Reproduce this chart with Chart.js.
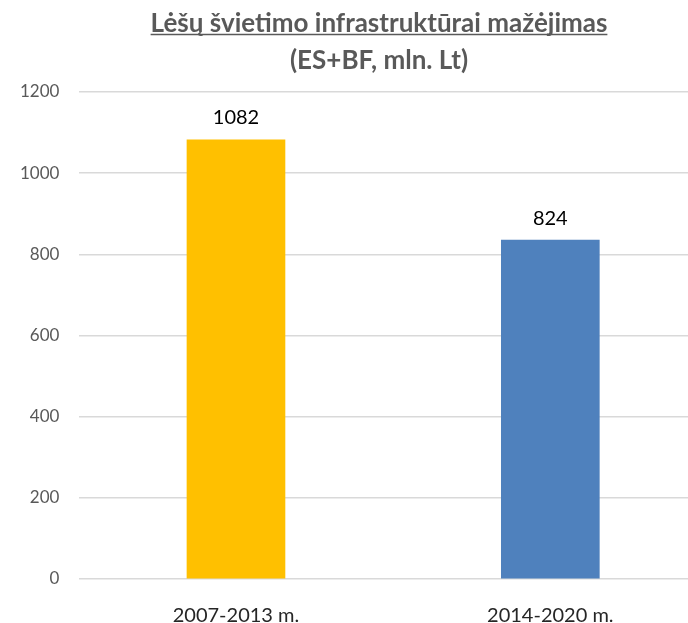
<!DOCTYPE html>
<html>
<head>
<meta charset="utf-8">
<script src="https://cdn.jsdelivr.net/npm/chart.js@4/dist/chart.umd.min.js"></script>
<style>
html,body{margin:0;padding:0;background:#fff;}
#wrap{width:688px;height:623px;}
</style>
</head>
<body>
<div id="wrap"><canvas id="c" width="688" height="623"></canvas></div>
<script>
const categories = ["2007-2013 m.", "2014-2020 m."];
const values = [1082, 835];
const valueLabels = ["1082", "824"];
const barColors = ["#FFC000", "#4F81BD"];
const titleLines = ["Lėšų švietimo infrastruktūrai mažėjimas", "(ES+BF, mln. Lt)"];
const yTicks = [0, 200, 400, 600, 800, 1000, 1200];

const FONT = "Lato, 'Open Sans', sans-serif";

const titlePlugin = {
  id: 'customTitle',
  afterDraw(chart) {
    const ctx = chart.ctx;
    ctx.save();
    ctx.font = "bold 26px " + FONT;
    ctx.fillStyle = "#595959";
    ctx.textAlign = "center";
    ctx.textBaseline = "alphabetic";
    const cx = 379;
    ctx.fillText(titleLines[0], cx, 32);
    ctx.fillText(titleLines[1], cx, 69);
    const w = ctx.measureText(titleLines[0]).width;
    ctx.strokeStyle = "#595959";
    ctx.lineWidth = 1.5;
    ctx.beginPath();
    ctx.moveTo(cx - w / 2, 34.5);
    ctx.lineTo(cx + w / 2, 34.5);
    ctx.stroke();
    ctx.restore();
  }
};

const valueLabelPlugin = {
  id: 'valueLabels',
  afterDatasetsDraw(chart) {
    const ctx = chart.ctx;
    const meta = chart.getDatasetMeta(0);
    ctx.save();
    ctx.font = "20px " + FONT;
    ctx.fillStyle = "#000000";
    ctx.textAlign = "center";
    ctx.textBaseline = "middle";
    meta.data.forEach((bar, i) => {
      ctx.fillText(valueLabels[i], bar.x, bar.y - 22);
    });
    ctx.restore();
  }
};

new Chart(document.getElementById('c'), {
  type: 'bar',
  data: {
    datasets: [{
      data: values.map((v, i) => ({ x: i, y: v })),
      backgroundColor: barColors,
      borderWidth: 0,
      barThickness: 98
    }]
  },
  options: {
    responsive: false,
    animation: false,
    layout: { padding: { left: 0, right: 0, top: 92, bottom: 0 } },
    plugins: {
      legend: { display: false },
      tooltip: { enabled: false },
      title: { display: false }
    },
    scales: {
      x: {
        type: 'linear',
        min: -0.498,
        max: 1.438,
        offset: false,
        afterBuildTicks(axis) { axis.ticks = categories.map((c, i) => ({ value: i })); },
        afterFit(axis) { axis.height = 44; },
        grid: { display: false },
        border: { display: false },
        ticks: {
          color: "#262626",
          font: { family: FONT, size: 20 },
          padding: 17,
          maxRotation: 0,
          autoSkip: false,
          callback: (v) => categories[v]
        }
      },
      y: {
        min: 0,
        max: 1200,
        afterBuildTicks(axis) { axis.ticks = yTicks.map(v => ({ value: v })); },
        grid: { color: "#D9D9D9", lineWidth: 1.5, drawTicks: false },
        border: { display: false },
        ticks: {
          color: "#595959",
          font: { family: FONT, size: 17 },
          padding: 20,
          callback: (v) => String(v)
        }
      }
    }
  },
  plugins: [titlePlugin, valueLabelPlugin]
});
</script>
</body>
</html>
